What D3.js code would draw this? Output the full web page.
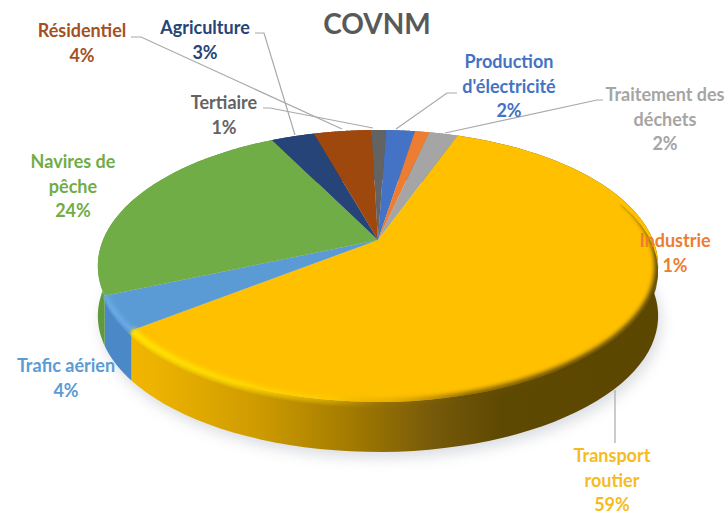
<!DOCTYPE html>
<html lang="fr">
<head>
<meta charset="utf-8">
<title>COVNM</title>
<script src="https://cdn.jsdelivr.net/npm/d3@7"></script>
<style>
html,body{margin:0;padding:0;background:#fff}
svg{display:block}
text{font-family:Lato,"Open Sans",sans-serif;font-weight:700;text-anchor:middle}
</style>
</head>
<body>
<svg id="chart" width="728" height="516"></svg>
<script>
// Émissions de COVNM par secteur, dans le sens horaire depuis le haut
const sectors = ["Production d'électricité","Industrie","Traitement des déchets","Transport routier","Trafic aérien","Navires de pêche","Agriculture","Résidentiel","Tertiaire"];
const shares = [2,1,2,59,4,24,3,4,1];
const colors = ["#4472C4","#ED7D31","#A5A5A5","#FFC000","#5B9BD5","#70AD47","#264478","#9E480E","#636363"];
const wallColors = ["#3a62a8","#c9692a","#8c8c8c","url(#wallTransport)","#4a88c8","#5f9a3a","#203a66","#863d0c","#545454"];
const labelColors = ["#4472C4","#ED7D31","#A5A5A5","#F5BC22","#5B9BD5","#70AD47","#264478","#A5501F","#636363"];

// Lignes de texte de chaque étiquette et leur ancrage
const labelLines = [["Production","d'électricité","2%"],["Industrie","1%"],["Traitement des","déchets","2%"],["Transport","routier","59%"],["Trafic aérien","4%"],["Navires de","pêche","24%"],["Agriculture","3%"],["Résidentiel","4%"],["Tertiaire","1%"]];
const labelAnchors = [[509,68],[675,247],[665,101],[612,462],[66,372],[73,168],[205,34],[82,37],[224,109]];
const leaders = [
  [[396,129],[447,93],[457,93]],
  [],
  [[445,133],[597,100],[603,100]],
  [[615,390],[615,443]],
  [],
  [],
  [[295,135],[264,33],[255,33]],
  [[342,129],[141,37],[131,37]],
  [[373,128],[270,108],[263,108]]
];

const svg = d3.select("#chart");
const depth = 50;
const startDeg = 2;

// Projection perspective du disque unité vers l'écran
const k = -0.191, ax = 275, ay = 85.2, cx = 378, cy = 240;
function project(theta) {
  const u = Math.sin(theta), v = -Math.cos(theta), w = 1 + k * v;
  return [cx + ax * u / w, (ay * v + cy) / w];
}
const pie = d3.pie().sort(null).startAngle(startDeg * Math.PI / 180).endAngle((360 + startDeg) * Math.PI / 180);
const arcs = pie(shares);
const line = d3.line();
const rim = (a0, a1) => d3.range(0, 81).map(i => project(a0 + (a1 - a0) * i / 80));

const defs = svg.append("defs");
const hGrad = (id, stops) => {
  const g = defs.append("linearGradient").attr("id", id).attr("gradientUnits", "userSpaceOnUse")
    .attr("x1", 98).attr("x2", 658).attr("y1", 0).attr("y2", 0);
  stops.forEach(s => g.append("stop").attr("offset", s[0]).attr("stop-color", s[1]).attr("stop-opacity", s[2] === undefined ? 1 : s[2]));
};
hGrad("wallTransport", [[0,"#f2b700"],[0.1,"#edb300"],[0.28,"#cf9c00"],[0.45,"#a37b00"],[0.6,"#76590a"],[0.72,"#5e4902"],[1,"#5c4700"]]);
hGrad("rimLight", [[0.05,"#ffe600",1],[0.25,"#ffdc00",0.9],[0.42,"#ffd000",0.45],[0.52,"#a07a00",0.25],[0.66,"#6a5000",0.75],[0.85,"#5c4700",0.95],[1,"#5c4700",1]]);
defs.append("filter").attr("id", "soft").attr("x", "-20%").attr("y", "-20%").attr("width", "140%").attr("height", "140%")
  .append("feGaussianBlur").attr("stdDeviation", 2.2);
defs.append("filter").attr("id", "shadow").attr("x", "-20%").attr("y", "-20%").attr("width", "140%").attr("height", "140%")
  .append("feGaussianBlur").attr("stdDeviation", 7);

const circle = rim(0, 2 * Math.PI);

// Ombre portée sous le disque
svg.append("path")
  .attr("d", line(circle.map(p => [p[0] + 3, p[1] + depth + 6])) + "Z")
  .attr("fill", "#bcc0c8").attr("opacity", 0.55).attr("filter", "url(#shadow)");

// Parois latérales
svg.append("g").selectAll("path").data(arcs).join("path")
  .attr("d", d => {
    const top = rim(d.startAngle, d.endAngle);
    const bottom = top.map(p => [p[0], p[1] + depth]).reverse();
    return line(top.concat(bottom)) + "Z";
  })
  .attr("fill", (d, i) => wallColors[i]);

// Face supérieure
svg.append("g").selectAll("path").data(arcs).join("path")
  .attr("d", d => line([[cx, cy]].concat(rim(d.startAngle, d.endAngle))) + "Z")
  .attr("fill", (d, i) => colors[i]);

// Biseau le long du bord avant, limité au disque et à sa paroi
defs.append("clipPath").attr("id", "bevelClip").append("path")
  .attr("d", line(circle.map(p => [p[0], p[1] + 6])) + "Z");
const bevel = svg.append("g").attr("clip-path", "url(#bevelClip)");
const transportIdx = 3;
bevel.append("path")
  .attr("d", line(rim(arcs[transportIdx].startAngle + 0.9, arcs[transportIdx].endAngle)))
  .attr("fill", "none").attr("stroke", "url(#rimLight)").attr("stroke-width", 7).attr("filter", "url(#soft)");
bevel.append("path")
  .attr("d", line(rim(arcs[4].startAngle, arcs[4].endAngle)))
  .attr("fill", "none").attr("stroke", "#6aaae6").attr("stroke-width", 6).attr("filter", "url(#soft)");

// Lignes de rappel
svg.append("g").selectAll("path").data(leaders.filter(l => l.length)).join("path")
  .attr("d", d => line(d)).attr("fill", "none").attr("stroke", "#a9a9a9").attr("stroke-width", 1.2);

// Étiquettes
const fontSize = 18, lineHeight = 24.5;
const labels = svg.append("g").selectAll("text").data(sectors).join("text")
  .attr("font-size", fontSize)
  .attr("fill", (d, i) => labelColors[i])
  .attr("x", (d, i) => labelAnchors[i][0])
  .attr("y", (d, i) => labelAnchors[i][1])
  .attr("aria-label", d => d);
labels.selectAll("tspan").data((d, i) => labelLines[i]).join("tspan")
  .attr("x", function () { return this.parentNode.getAttribute("x"); })
  .attr("dy", (d, i) => i ? lineHeight : 0)
  .text(d => d);

// Titre
svg.append("text").attr("x", 377).attr("y", 34).attr("font-size", 28).attr("fill", "#595959").text("COVNM");
</script>
</body>
</html>
